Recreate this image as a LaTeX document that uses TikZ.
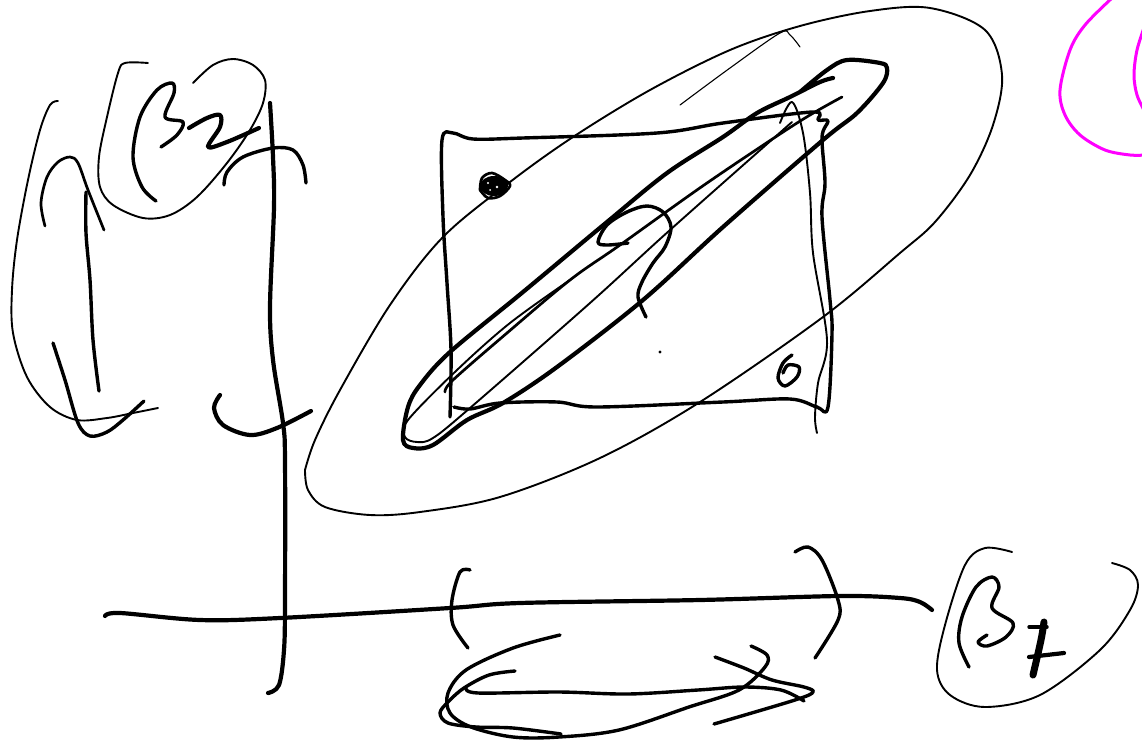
\documentclass[tikz,border=0pt]{standalone}
\tikzset{
 ink/.style={line cap=round,line join=round,black},
 hair/.style={ink,line width=1.1pt},
 inkthin/.style={ink,line width=1.9pt},
 inkmed/.style={ink,line width=2.7pt},
 inkthick/.style={ink,line width=3.4pt},
 inkheavy/.style={ink,line width=4.2pt},
 inkfat/.style={ink,line width=7pt},
 magentaink/.style={line cap=round,line join=round,color={rgb,255:red,255;green,0;blue,255},line width=3pt}
}
\newcommand\stk[2]{\draw[#1] plot[smooth,tension=.55] coordinates {#2};}
\begin{document}
\begin{tikzpicture}[x=1pt,y=-1pt]
\useasboundingbox (0,0) rectangle (1142,742);
\fill[white] (0,0) rectangle (1142,742);
% left group
\stk{inkthin}{(58,101)(50,105)(40,130)(28,180)(17,240)(12,290)(13,333)(27,377)(50,407)(77,420)(107,418)(133,413)(158,408)}
\stk{inkmed}{(45,226)(41,203)(47,177)(58,162)(70,157)(78,163)(88,190)(104,230)}
\stk{inkthick}{(86,192)(86,233)(90,280)(93,340)(99,391)}
\stk{inkthick}{(53,343)(65,380)(78,423)(90,436)(107,432)(123,420)(144,401)}
\stk{inkthin}{(148,63)(125,63)(118,73)(107,117)(99,157)(100,187)(113,205)(143,218)(170,215)(197,197)(227,163)(250,130)(263,103)(265,80)(253,65)(233,59)(213,65)(193,83)}
\stk{inkthick}{(156,201)(142,187)(133,157)(140,117)(157,90)(172,83)(174,93)(165,117)(183,122)(177,135)(161,147)}
\stk{inkheavy}{(189,128)(207,118)(220,115)(220,127)(208,147)(227,142)(259,128)}
\stk{inkheavy}{(270,103)(273,157)(274,207)(270,307)(273,360)(283,423)(285,460)(285,600)(284,650)(279,685)(268,693)}
\stk{inkthick}{(224,185)(227,172)(243,157)(273,148)(293,150)(303,165)(306,183)}
\stk{inkheavy}{(220,395)(214,408)(223,425)(250,435)(277,428)(311,411)}
% big ellipse
\stk{inkthin}{(305,470)(315,440)(340,390)(390,305)(443,237)(510,182)(573,137)(650,90)(730,50)(800,26)(870,11)(930,8)(985,30)(1002,75)(993,125)(970,175)(935,222)(900,253)(823,317)(700,402)(600,458)(500,497)(420,512)(370,515)(325,507)(308,490)(305,470)}
\stk{hair}{(680,105)(730,68)(780,33)(790,35)(800,47)}
% scribble
\fill (494,186) ellipse (14pt and 10pt);
\stk{inkmed}{(480,190)(482,178)(492,173)(505,180)(510,186)(500,196)(488,198)(480,190)}
\fill[white] (488,183) circle (1.2pt) (497,187) circle (1.4pt) (490,190) circle (1pt);
% square
\stk{inkthick}{(450,417)(451,350)(447,283)(443,217)(442,140)(453,133)(473,139)(523,138)(657,133)(723,123)(813,112)(818,120)(828,121)(822,137)(825,183)(822,217)(830,300)(832,333)(828,407)(817,407)(790,399)(723,402)(597,407)(557,402)(500,403)(470,409)(454,407)}
\stk{inkthin}{(780,123)(792,102)(803,133)(810,193)(813,253)(827,340)(818,383)(815,417)(817,433)}
% cigar
\stk{inkheavy}{(833,78)(820,82)(790,97)(757,113)(723,137)(667,173)(607,222)(523,292)(450,352)(420,385)(408,407)(403,440)(413,448)(433,445)(467,420)(503,403)(557,367)(643,300)(723,227)(823,140)(857,113)(883,83)(887,68)(880,63)(847,60)(827,70)(800,92)}
\stk{inkmed}{(842,97)(797,123)(707,183)(620,245)(570,280)(507,333)(453,380)(445,392)}
\stk{inkthin}{(792,122)(670,230)(590,303)(470,408)(433,438)(417,442)(405,437)(408,420)(457,370)(510,323)(570,280)}
\stk{inkthick}{(628,243)(607,245)(598,242)(607,225)(627,212)(647,206)(663,212)(671,227)(665,247)(653,263)(642,282)(638,297)(646,317)}
\fill (660,352) circle (1.6pt);
\stk{inkthick}{(792,355)(783,363)(778,378)(785,386)(797,377)(799,367)(788,365)(783,373)}
% horizontal axis and brackets
\stk{inkheavy}{(105,616)(120,613)(200,620)(280,618)(450,608)(520,603)(700,600)(840,596)(900,598)(920,602)(932,610)}
\stk{inkthick}{(470,570)(460,572)(452,600)(453,625)(468,648)}
\stk{inkthick}{(795,552)(808,547)(822,560)(838,600)(838,620)(815,658)}
% lower oval
\stk{inkthick}{(560,635)(513,648)(466,670)(448,693)(450,713)(471,727)(513,737)(559,737)(619,730)(689,707)(739,690)(765,667)(767,655)(751,646)}
\stk{inkthick}{(515,671)(489,675)(464,688)(448,702)(440,713)(448,723)(476,727)(513,728)(561,734)}
\stk{inkthick}{(466,688)(478,693)(559,692)(628,694)(698,690)(744,687)(781,690)(804,701)}
\stk{inkthick}{(715,657)(744,668)(772,680)(804,687)(813,692)(795,700)(714,724)}
% beta 7
\stk{inkthin}{(1012,552)(985,548)(965,565)(945,625)(937,670)(950,695)(985,707)(1040,695)(1100,650)(1130,610)(1138,585)(1130,570)(1112,563)}
\stk{inkthick}{(969,667)(959,643)(962,617)(976,587)(992,577)(999,587)(992,608)(1013,623)(1006,637)(987,646)(978,642)(987,635)}
\stk{inkfat}{(1044,622)(1041,640)(1033,675)}
\stk{inkthick}{(1029,627)(1047,627)}
\stk{inkheavy}{(1029,657)(1064,653)}
% magenta
\stk{magentaink}{(1112,-2)(1085,25)(1070,50)(1060,90)(1065,115)(1080,135)(1105,150)(1130,155)(1145,155)}
\stk{magentaink}{(1145,25)(1137,50)(1134,75)(1137,95)(1145,112)}
\end{tikzpicture}
\end{document}
